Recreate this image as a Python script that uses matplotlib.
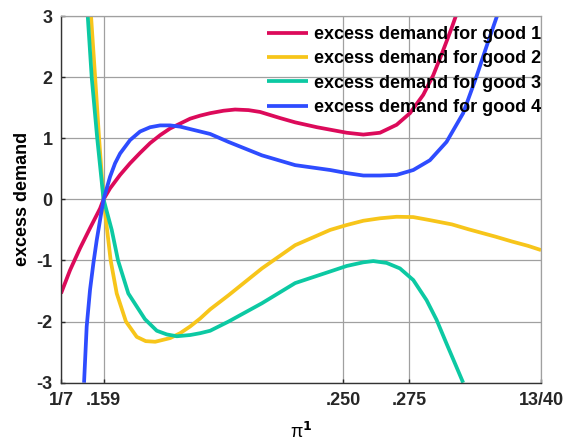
import matplotlib
matplotlib.use('Agg')
import matplotlib.pyplot as plt

plt.rcParams['font.family'] = ['Liberation Sans', 'DejaVu Sans']
plt.rcParams['font.weight'] = 'bold'
plt.rcParams['axes.unicode_minus'] = False
plt.rcParams['mathtext.fontset'] = 'dejavusans'

# values
x1 = [0.142857, 0.14627, 0.15007, 0.15387, 0.15767, 0.159, 0.16147, 0.16527,
      0.16906, 0.17286, 0.17666, 0.18046, 0.18426, 0.18806, 0.19185, 0.19565,
      0.19945, 0.2045, 0.2089, 0.2140, 0.2184, 0.2260, 0.2317, 0.2400, 0.2450,
      0.25126, 0.25758, 0.26389, 0.2702, 0.27526, 0.28031, 0.28409, 0.28788,
      0.29104, 0.29268]
y1 = [-1.54, -1.16, -0.80, -0.47, -0.15, 0.0, 0.18, 0.40,
      0.59, 0.76, 0.92, 1.05, 1.16, 1.24, 1.32, 1.37,
      1.41, 1.45, 1.47, 1.46, 1.43, 1.33, 1.26, 1.18, 1.14,
      1.09, 1.06, 1.09, 1.22, 1.41, 1.71, 2.03, 2.44,
      2.80, 3.0]

x2 = [0.15425, 0.1558, 0.1573, 0.159, 0.1617, 0.1640, 0.1675, 0.1716, 0.1750,
      0.1786, 0.18426, 0.18806, 0.19185, 0.19565, 0.19945, 0.2064, 0.2191,
      0.2317, 0.2450, 0.25126, 0.25758, 0.26389, 0.2702, 0.2765, 0.28283,
      0.2912, 0.2975, 0.3026, 0.3077, 0.3140, 0.3200, 0.325]
y2 = [3.0, 2.0, 1.0, 0.0, -1.0, -1.54, -2.0, -2.25, -2.32,
      -2.33, -2.27, -2.19, -2.08, -1.95, -1.80, -1.57, -1.13,
      -0.75, -0.50, -0.42, -0.35, -0.31, -0.285, -0.29, -0.34,
      -0.41, -0.49, -0.55, -0.61, -0.69, -0.76, -0.83]

x3 = [0.1530, 0.1545, 0.1566, 0.159, 0.1621, 0.1645, 0.1684, 0.1747, 0.1792,
      0.1830, 0.1868, 0.19185, 0.19565, 0.19945, 0.2064, 0.2191, 0.2317,
      0.2450, 0.25126, 0.25758, 0.26136, 0.26641, 0.27146, 0.27652, 0.28157,
      0.28535, 0.28914, 0.29230, 0.29545]
y3 = [3.0, 2.0, 1.0, 0.0, -0.50, -1.0, -1.54, -1.96, -2.15,
      -2.21, -2.24, -2.22, -2.19, -2.15, -2.0, -1.70, -1.37,
      -1.18, -1.09, -1.03, -1.01, -1.04, -1.13, -1.32, -1.65,
      -1.97, -2.36, -2.68, -3.0]

x4 = [0.1516, 0.1526, 0.15387, 0.15513, 0.15640, 0.15767, 0.159, 0.16147,
      0.16337, 0.16527, 0.16906, 0.17286, 0.17666, 0.18046, 0.18426, 0.18806,
      0.19185, 0.19565, 0.19945, 0.2064, 0.2191, 0.2317, 0.2450, 0.25126,
      0.25758, 0.26389, 0.2702, 0.27652, 0.28283, 0.28914, 0.29545, 0.30051,
      0.3043, 0.3083]
y4 = [-3.0, -2.08, -1.48, -1.05, -0.67, -0.34, 0.0, 0.37,
      0.59, 0.75, 0.97, 1.11, 1.18, 1.21, 1.21, 1.19,
      1.15, 1.11, 1.07, 0.94, 0.72, 0.56, 0.48, 0.43,
      0.39, 0.39, 0.40, 0.48, 0.64, 0.94, 1.41, 2.01,
      2.50, 3.0]

labels = ['excess demand for good 1', 'excess demand for good 2',
          'excess demand for good 3', 'excess demand for good 4']
colors = ['#DC0A5A', '#F7C51A', '#0CC9A3', '#2E4CFF']

xticks = [1/7, 0.159, 0.250, 0.275, 13/40]
xticklabels = ['1/7', '.159', '.250', '.275', '13/40']
yticks = [-3, -2, -1, 0, 1, 2, 3]

fig = plt.figure(figsize=(5.67, 4.41), dpi=100)
ax = fig.add_axes([0.1076, 0.1322, 0.8466, 0.8315])

for xs, ys, lab, c in zip([x1, x2, x3, x4], [y1, y2, y3, y4], labels, colors):
    ax.plot(xs, ys, color=c, lw=2.7, label=lab, solid_capstyle='butt',
            solid_joinstyle='round')

ax.set_xlim(1/7, 13/40)
ax.set_ylim(-3, 3)
ax.set_xticks(xticks)
ax.set_xticklabels(xticklabels)
ax.set_yticks(yticks)
ax.grid(True, color='#a0a0a0', lw=0.9)
ax.set_axisbelow(True)
ax.tick_params(direction='in', length=3, width=1, labelsize=13, colors='#262626')
ax.tick_params(axis='y', pad=6)
ax.tick_params(axis='x', pad=7)
for s in ['left', 'bottom']:
    ax.spines[s].set_color('#333333')
    ax.spines[s].set_linewidth(1.0)
for s in ['top', 'right']:
    ax.spines[s].set_color('#a0a0a0')
    ax.spines[s].set_linewidth(0.9)

ax.set_ylabel('excess demand', fontsize=13, fontweight='bold', labelpad=4)
ax.set_xlabel(r'$\mathregular{\pi}^{\mathbf{1}}$', fontsize=13, labelpad=9)

ax.legend(loc='upper right', bbox_to_anchor=(1.0146, 0.992), frameon=False,
          fontsize=13, handlelength=2.3, handletextpad=0.3, labelspacing=0.4,
          borderaxespad=0.1, borderpad=0.3)

fig.savefig('out.png', dpi=100)
